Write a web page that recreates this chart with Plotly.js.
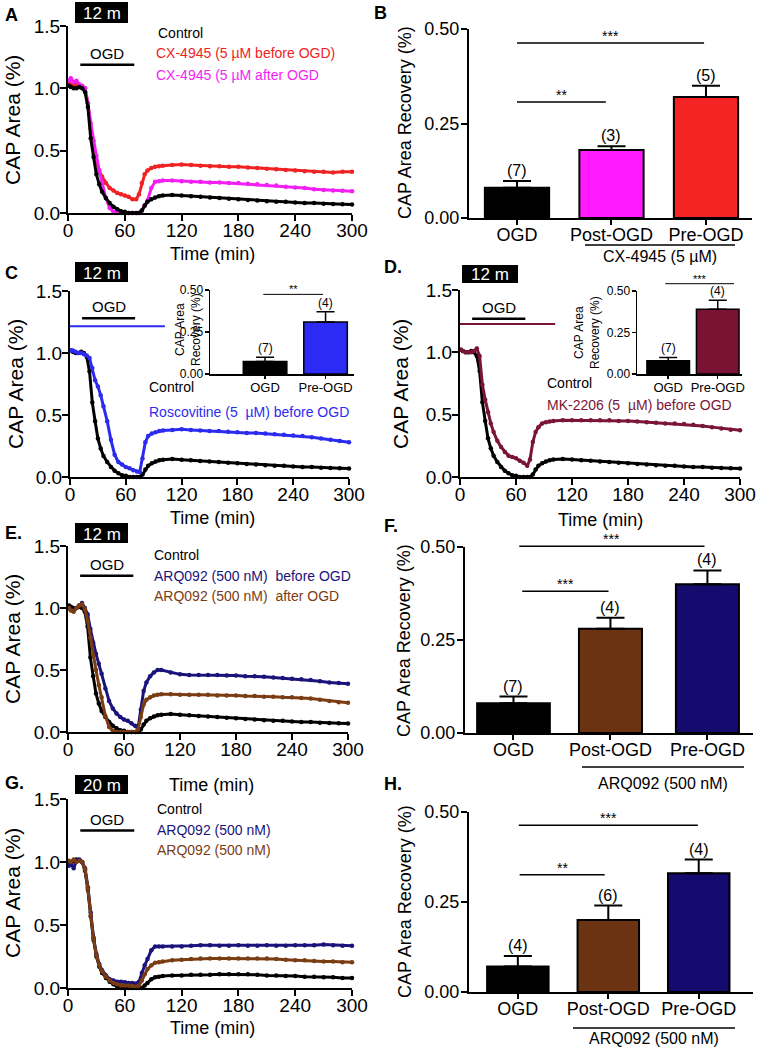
<!DOCTYPE html>
<html>
<head>
<meta charset="utf-8">
<script src="https://cdn.plot.ly/plotly-3.0.1.min.js"></script>
<style>
  html, body { margin: 0; padding: 0; background: #fff; }
  #fig { width: 764px; height: 1050px; }
</style>
</head>
<body>
<div id="fig"></div>
<script>
// --- DATA ---
const timeMin = [1, 3, 6, 9, 12, 15, 18, 21, 24, 27, 30, 33, 36, 40, 44, 48, 52, 56, 60, 64, 68, 72,
    75, 78, 81, 84, 88, 92, 96, 100, 110, 120, 130, 140, 150, 160, 170, 180, 190, 200, 210, 220,
    230, 240, 250, 260, 270, 280, 290, 300];

// 12 min control (same recording set in A, C, D, E)
const controlCap = [1.02, 1.01, 1.0, 1.0, 1.01, 1.0, 0.97, 0.85, 0.6, 0.45, 0.31, 0.23, 0.17, 0.12, 0.08, 0.05, 0.03, 0.015, 0.01, 0.0, 0.0, 0.0,
    0.0, 0.02, 0.06, 0.09, 0.11, 0.125, 0.135, 0.14, 0.145, 0.14, 0.135, 0.13, 0.125, 0.12, 0.115, 0.11, 0.105, 0.1, 0.095, 0.09,
    0.09, 0.085, 0.08, 0.08, 0.075, 0.072, 0.07, 0.068];
const cx4945Pre = [1.04, 1.03, 1.02, 1.03, 1.02, 1.01, 1.0, 0.88, 0.68, 0.52, 0.42, 0.34, 0.29, 0.24, 0.2, 0.18, 0.16, 0.15, 0.14, 0.13, 0.11, 0.11,
    0.15, 0.24, 0.31, 0.34, 0.36, 0.37, 0.375, 0.38, 0.385, 0.39, 0.385, 0.38, 0.375, 0.375, 0.37, 0.37, 0.365, 0.36, 0.355, 0.35,
    0.345, 0.34, 0.335, 0.33, 0.33, 0.325, 0.33, 0.33];
const cx4945Post = [1.06, 1.08, 1.05, 1.06, 1.03, 1.02, 1.0, 0.88, 0.72, 0.58, 0.46, 0.34, 0.24, 0.12, 0.04, 0.01, 0.0, 0.0, 0.0, 0.0, 0.0, 0.0,
    0.0, 0.02, 0.06, 0.1, 0.2, 0.25, 0.255, 0.26, 0.26, 0.255, 0.25, 0.25, 0.245, 0.245, 0.24, 0.24, 0.235, 0.23, 0.225, 0.22,
    0.21, 0.205, 0.2, 0.19, 0.185, 0.18, 0.178, 0.175];
const roscoPre = [1.02, 1.02, 1.01, 1.0, 1.0, 0.99, 0.98, 0.96, 0.88, 0.78, 0.73, 0.66, 0.57, 0.45, 0.3, 0.18, 0.12, 0.1, 0.08, 0.07, 0.055, 0.045,
    0.04, 0.15, 0.28, 0.33, 0.35, 0.36, 0.37, 0.375, 0.38, 0.385, 0.38, 0.375, 0.37, 0.37, 0.365, 0.36, 0.355, 0.355, 0.35, 0.345,
    0.34, 0.335, 0.33, 0.32, 0.31, 0.3, 0.29, 0.28];
const mk2206Pre = [1.02, 1.01, 1.0, 1.0, 1.0, 1.01, 1.03, 0.97, 0.74, 0.62, 0.52, 0.43, 0.36, 0.29, 0.24, 0.2, 0.17, 0.16, 0.15, 0.13, 0.115, 0.09,
    0.14, 0.28, 0.36, 0.4, 0.43, 0.44, 0.445, 0.45, 0.455, 0.455, 0.455, 0.455, 0.455, 0.455, 0.45, 0.45, 0.445, 0.44, 0.435, 0.43,
    0.43, 0.425, 0.42, 0.41, 0.4, 0.39, 0.38, 0.375];
const arqPre = [1.0, 0.99, 0.98, 1.0, 1.02, 1.04, 1.0, 0.95, 0.83, 0.72, 0.63, 0.55, 0.47, 0.35, 0.25, 0.19, 0.15, 0.12, 0.1, 0.09, 0.07, 0.05,
    0.03, 0.18, 0.33, 0.4, 0.45, 0.48, 0.5, 0.5, 0.48, 0.465, 0.46, 0.46, 0.46, 0.46, 0.455, 0.455, 0.45, 0.45, 0.445, 0.44,
    0.435, 0.43, 0.425, 0.42, 0.41, 0.4, 0.395, 0.39];
const arqPost = [1.0, 0.98, 0.97, 1.0, 1.02, 1.03, 0.99, 0.9, 0.76, 0.62, 0.5, 0.38, 0.28, 0.13, 0.04, 0.01, 0.0, 0.0, 0.0, 0.0, 0.0, 0.0,
    0.02, 0.12, 0.22, 0.26, 0.28, 0.295, 0.3, 0.305, 0.305, 0.3, 0.3, 0.3, 0.3, 0.295, 0.295, 0.295, 0.29, 0.29, 0.285, 0.285,
    0.28, 0.28, 0.275, 0.27, 0.26, 0.25, 0.24, 0.235];

// 20 min OGD recordings (G)
const control20 = [1.0, 0.98, 1.01, 1.02, 1.01, 1.0, 0.93, 0.78, 0.57, 0.38, 0.25, 0.17, 0.12, 0.08, 0.05, 0.03, 0.01, 0.0, 0.0, 0.0, 0.0, 0.0,
    0.0, 0.0, 0.02, 0.04, 0.07, 0.085, 0.09, 0.095, 0.1, 0.1, 0.105, 0.105, 0.105, 0.11, 0.11, 0.11, 0.11, 0.105, 0.1, 0.1,
    0.095, 0.095, 0.09, 0.09, 0.085, 0.085, 0.08, 0.08];
const arqPre20 = [0.97, 0.99, 0.95, 1.01, 1.02, 1.0, 0.95, 0.8, 0.6, 0.4, 0.27, 0.19, 0.14, 0.1, 0.07, 0.06, 0.05, 0.05, 0.045, 0.04, 0.04, 0.035,
    0.05, 0.12, 0.18, 0.23, 0.3, 0.33, 0.33, 0.33, 0.33, 0.33, 0.335, 0.34, 0.34, 0.335, 0.335, 0.34, 0.335, 0.335, 0.34, 0.335,
    0.335, 0.34, 0.34, 0.34, 0.345, 0.34, 0.335, 0.335];
const arqPost20 = [1.01, 1.0, 1.02, 1.0, 1.01, 1.0, 0.94, 0.79, 0.58, 0.39, 0.26, 0.18, 0.13, 0.09, 0.06, 0.04, 0.03, 0.02, 0.02, 0.02, 0.015, 0.01,
    0.02, 0.06, 0.11, 0.15, 0.18, 0.2, 0.205, 0.21, 0.22, 0.225, 0.23, 0.235, 0.235, 0.235, 0.235, 0.235, 0.235, 0.235, 0.235, 0.23,
    0.225, 0.22, 0.22, 0.215, 0.21, 0.21, 0.205, 0.205];

// OGD window (min)
const ogdWindow = [13, 70];
const drugWindow = [0, 102];

// Bar charts
const groups3 = ['OGD', 'Post-OGD', 'Pre-OGD'];
const groups2 = ['OGD', 'Pre-OGD'];
const recB = [0.08, 0.18, 0.32];
const errB = [0.018, 0.01, 0.03];
const nB = ['(7)', '(3)', '(5)'];
const recC = [0.075, 0.31];
const errC = [0.025, 0.06];
const nC = ['(7)', '(4)'];
const recD = [0.08, 0.39];
const errD = [0.02, 0.054];
const nD = ['(7)', '(4)'];
const recF = [0.08, 0.28, 0.4];
const errF = [0.018, 0.03, 0.037];
const nF = ['(7)', '(4)', '(4)'];
const recH = [0.071, 0.2, 0.33];
const errH = [0.029, 0.04, 0.038];
const nH = ['(4)', '(6)', '(4)'];

// --- HELPERS ---
const W = 764, H = 1050;
const FONT = 'Liberation Sans, Arial, Helvetica, sans-serif';
const px = v => v / W;
const py = v => 1 - v / H;

const C_BLACK = '#000000';
const C_RED = '#ef2323';
const C_MAGENTA = '#f21ef2';
const C_BLUE = '#2b2bf0';
const C_MAROON = '#7a1538';
const C_NAVY = '#1a137a';
const C_BROWN = '#7a3c12';
const BAR_NAVY = '#150a6e';
const BAR_BROWN = '#6b3311';

const traces = [];
const shapes = [];
const annotations = [];
const layout = {
    width: W, height: H,
    margin: { l: 0, r: 0, t: 0, b: 0 },
    paper_bgcolor: '#fff',
    plot_bgcolor: 'rgba(0,0,0,0)',
    showlegend: false,
    font: { family: FONT, color: '#000' },
    shapes, annotations
};

function axis(extra) {
    return Object.assign({
        showline: true, linecolor: '#000', linewidth: 2,
        ticks: 'outside', ticklen: 6, tickwidth: 2, tickcolor: '#000',
        showgrid: false, zeroline: false, fixedrange: true,
        tickfont: { family: FONT, size: 19, color: '#000' }
    }, extra);
}

function ax(n) { return n === 1 ? '' : String(n); }

function text(x, y, t, opt) {
    annotations.push(Object.assign({
        x: px(x), y: py(y), xref: 'paper', yref: 'paper', text: t, showarrow: false,
        xanchor: 'center', yanchor: 'middle', font: { family: FONT, size: 18, color: '#000' }
    }, opt || {}));
}

function badge(x0, y0, x1, y1, label) {
    shapes.push({ type: 'rect', xref: 'paper', yref: 'paper', x0: px(x0), x1: px(x1), y0: py(y1), y1: py(y0),
        fillcolor: '#000', line: { width: 0 } });
    text((x0 + x1) / 2, (y0 + y1) / 2 + 1, label, { font: { family: FONT, size: 17, color: '#fff' } });
}

function letter(x, y, t) {
    text(x, y, '<b>' + t + '</b>', { xanchor: 'left', font: { family: FONT, size: 18, color: '#000' } });
}

// time-course panel
function timePanel(n, box, series, ogdY, drug) {
    const id = ax(n);
    layout['xaxis' + id] = axis({
        domain: [px(box[0]), px(box[1])], range: [0, 300], anchor: 'y' + id,
        tickvals: [0, 60, 120, 180, 240, 300], ticklabelstandoff: -7
    });
    layout['yaxis' + id] = axis({
        domain: [py(box[3]), py(box[2])], range: [0, 1.5], anchor: 'x' + id,
        tickvals: [0, 0.5, 1, 1.5], tickformat: '.1f', ticklabelstandoff: -4
    });
    series.forEach(s => {
        traces.push({
            type: 'scatter', mode: 'lines+markers', x: timeMin, y: s.y,
            xaxis: 'x' + id, yaxis: 'y' + id, cliponaxis: false, hoverinfo: 'skip',
            line: { color: s.color, width: 3 }, marker: { color: s.color, size: 4.5 }
        });
    });
    shapes.push({ type: 'line', xref: 'x' + id, yref: 'y' + id, x0: ogdWindow[0], x1: ogdWindow[1],
        y0: ogdY, y1: ogdY, line: { color: '#000', width: 2.5 } });
    annotations.push({ xref: 'x' + id, yref: 'y' + id, x: (ogdWindow[0] + ogdWindow[1]) / 2, y: ogdY,
        yanchor: 'bottom', yshift: 1, text: 'OGD', showarrow: false, font: { family: FONT, size: 15, color: '#000' } });
    if (drug) {
        shapes.push({ type: 'line', xref: 'x' + id, yref: 'y' + id, x0: drugWindow[0], x1: drugWindow[1],
            y0: drug.y, y1: drug.y, line: { color: drug.color, width: 2 } });
    }
}

// bar panel
function barPanel(n, box, xr, cats, vals, errs, ns, colors, widths, sigs, opt) {
    const id = ax(n);
    const small = opt && opt.small;
    layout['xaxis' + id] = axis({
        domain: [px(box[0]), px(box[1])], range: xr, anchor: 'y' + id, type: 'category',
        ticklen: small ? 3 : 5, linewidth: small ? 1.5 : 2, tickwidth: small ? 1.5 : 2,
        ticklabelstandoff: small ? -2 : -6,
        tickfont: { family: FONT, size: small ? 13 : 18, color: '#000' }
    });
    layout['yaxis' + id] = axis({
        domain: [py(box[3]), py(box[2])], range: [0, 0.5], anchor: 'x' + id,
        tickvals: [0, 0.25, 0.5], tickformat: '.2f',
        ticklen: small ? 4 : 6, linewidth: small ? 1.5 : 2, tickwidth: small ? 1.5 : 2,
        ticklabelstandoff: small ? -1 : -2,
        tickfont: { family: FONT, size: small ? 12 : 18, color: '#000' }
    });
    traces.push({
        type: 'bar', x: cats, y: vals, width: widths, xaxis: 'x' + id, yaxis: 'y' + id, hoverinfo: 'skip',
        marker: { color: colors, line: { color: '#000', width: small ? 1.5 : 2 } },
        error_y: { type: 'data', symmetric: false, array: errs, arrayminus: errs.map(() => 0),
            color: '#000', thickness: small ? 1.5 : 2, width: small ? 9 : 14 }
    });
    cats.forEach((c, i) => {
        annotations.push({ xref: 'x' + id, yref: 'y' + id, x: i, y: vals[i] + errs[i], yanchor: 'bottom',
            yshift: 0, text: ns[i], showarrow: false, font: { family: FONT, size: small ? 12 : 16, color: '#000' } });
    });
    sigs.forEach(s => {
        shapes.push({ type: 'line', xref: 'x' + id, yref: 'y' + id + ' domain', x0: s.from, x1: s.to,
            y0: s.y / 0.5, y1: s.y / 0.5, line: { color: '#000', width: small ? 1 : 1.5 } });
        annotations.push({ xref: 'x' + id, yref: 'y' + id + ' domain', x: (s.from + s.to) / 2, y: s.y / 0.5,
            yanchor: 'bottom', yshift: -3, text: s.label, showarrow: false,
            font: { family: FONT, size: small ? 11 : 14, color: '#000' } });
    });
}

// --- PANELS ---
// A
timePanel(1, [68, 352, 26, 213], [
    { y: cx4945Pre, color: C_RED }, { y: cx4945Post, color: C_MAGENTA }, { y: controlCap, color: C_BLACK }
], 1.19);
// C
timePanel(3, [70, 349, 291, 477], [
    { y: controlCap, color: C_BLACK }, { y: roscoPre, color: C_BLUE }
], 1.28, { y: 1.215, color: C_BLUE });
// D
timePanel(5, [460, 740, 290, 477], [
    { y: controlCap, color: C_BLACK }, { y: mk2206Pre, color: C_MAROON }
], 1.27, { y: 1.227, color: C_MAROON });
// E
timePanel(7, [68, 348, 546, 732], [
    { y: controlCap, color: C_BLACK }, { y: arqPre, color: C_NAVY }, { y: arqPost, color: C_BROWN }
], 1.26);
// G
timePanel(9, [68, 352, 799, 988], [
    { y: control20, color: C_BLACK }, { y: arqPre20, color: C_NAVY }, { y: arqPost20, color: C_BROWN }
], 1.25);

// B
barPanel(2, [469, 752, 29, 218], [-0.508, 2.487], groups3, recB, errB, nB,
    ['#000', '#ff1aff', '#f42424'], 0.68,
    [{ from: 0, to: 0.94, y: 0.307, label: '**' }, { from: 0, to: 1.98, y: 0.463, label: '***' }]);
// C inset
barPanel(4, [210, 354, 290, 374], [-0.91, 1.47], groups2, recC, errC, nC,
    ['#000', '#2b2bf5'], 0.72,
    [{ from: -0.03, to: 0.96, y: 0.474, label: '**' }], { small: true });
// D inset
barPanel(6, [637, 742, 291, 374], [-0.63, 1.49], groups2, recD, errD, nD,
    ['#000', '#7a1233'], 0.86,
    [{ from: -0.06, to: 1.33, y: 0.544, label: '***' }], { small: true });
// F
barPanel(8, [465, 753, 547, 733], [-0.5, 2.47], groups3, recF, errF, nF,
    ['#000', BAR_BROWN, BAR_NAVY], [0.75, 0.65, 0.65],
    [{ from: 0.09, to: 0.98, y: 0.381, label: '***' }, { from: 0.06, to: 1.97, y: 0.502, label: '***' }]);
// H
barPanel(10, [469, 753, 812, 992], [-0.54, 2.6], groups3, recH, errH, nH,
    ['#000', BAR_BROWN, BAR_NAVY], 0.68,
    [{ from: 0.02, to: 0.96, y: 0.326, label: '**' }, { from: 0.01, to: 1.99, y: 0.463, label: '***' }]);

// --- TEXT ---
letter(3, 15, 'A'); letter(372, 13, 'B'); letter(3, 273, 'C'); letter(382, 267, 'D.');
letter(3, 533, 'E.'); letter(382, 526, 'F.'); letter(3, 783, 'G.'); letter(382, 784, 'H.');

badge(75, 2, 128, 23, '12 m');
badge(75, 262, 128, 282, '12 m');
badge(462, 265, 518, 283, '12 m');
badge(75, 523, 128, 543, '12 m');
badge(75, 775, 128, 794, '20 m');

// axis titles
const yTitle = { textangle: -90, font: { family: FONT, size: 21, color: '#000' } };
text(12, 120, 'CAP Area (%)', yTitle);
text(16, 384, 'CAP Area (%)', yTitle);
text(401, 384, 'CAP Area (%)', yTitle);
text(12, 639, 'CAP Area (%)', yTitle);
text(12, 893, 'CAP Area (%)', yTitle);
const yTitleBar = { textangle: -90, font: { family: FONT, size: 18, color: '#000' } };
text(405, 123, 'CAP Area Recovery (%)', yTitleBar);
text(404, 640, 'CAP Area Recovery (%)', yTitleBar);
text(405, 902, 'CAP Area Recovery (%)', yTitleBar);
const yTitleInset = { textangle: -90, font: { family: FONT, size: 12, color: '#000' } };
text(188, 330, 'CAP Area<br>Recovery (%)', yTitleInset);
text(587, 333, 'CAP Area<br>Recovery (%)', yTitleInset);

text(212, 254, 'Time (min)');
text(212, 518, 'Time (min)');
text(600, 520, 'Time (min)');
text(211, 785, 'Time (min)');
text(212, 1028, 'Time (min)');

// legends
const leg = (x, y, t, c) => text(x, y, t, { xanchor: 'left', font: { family: FONT, size: 14, color: c } });
leg(156, 33, 'Control', C_BLACK);
leg(154, 53, 'CX-4945 (5 µM before OGD)', C_RED);
leg(154, 75, 'CX-4945 (5 µM after OGD', C_MAGENTA);
leg(147, 387, 'Control', C_BLACK);
leg(147, 412, 'Roscovitine (5  µM) before OGD', C_BLUE);
leg(545, 383, 'Control', C_BLACK);
leg(545, 405, 'MK-2206 (5  µM) before OGD', C_MAROON);
leg(152, 555, 'Control', C_BLACK);
leg(152, 576, 'ARQ092 (500 nM)  before OGD', C_NAVY);
leg(152, 596, 'ARQ092 (500 nM)  after OGD', C_BROWN);
leg(155, 809, 'Control', C_BLACK);
leg(155, 830, 'ARQ092 (500 nM)', C_NAVY);
leg(155, 850, 'ARQ092 (500 nM)', C_BROWN);

// treatment brackets under bar charts
function bracket(x0, x1, y, label, ly) {
    shapes.push({ type: 'line', xref: 'paper', yref: 'paper', x0: px(x0), x1: px(x1), y0: py(y), y1: py(y),
        line: { color: '#000', width: 1.5 } });
    text((x0 + x1) / 2, ly, label, { font: { family: FONT, size: 16, color: '#000' } });
}
bracket(585, 735, 245, 'CX-4945 (5 µM)', 256);
bracket(582, 744, 767, 'ARQ092 (500 nM)', 783);
bracket(573, 735, 1028, 'ARQ092 (500 nM)', 1038);

Plotly.newPlot('fig', traces, layout, { displayModeBar: false, staticPlot: true });
</script>
</body>
</html>
